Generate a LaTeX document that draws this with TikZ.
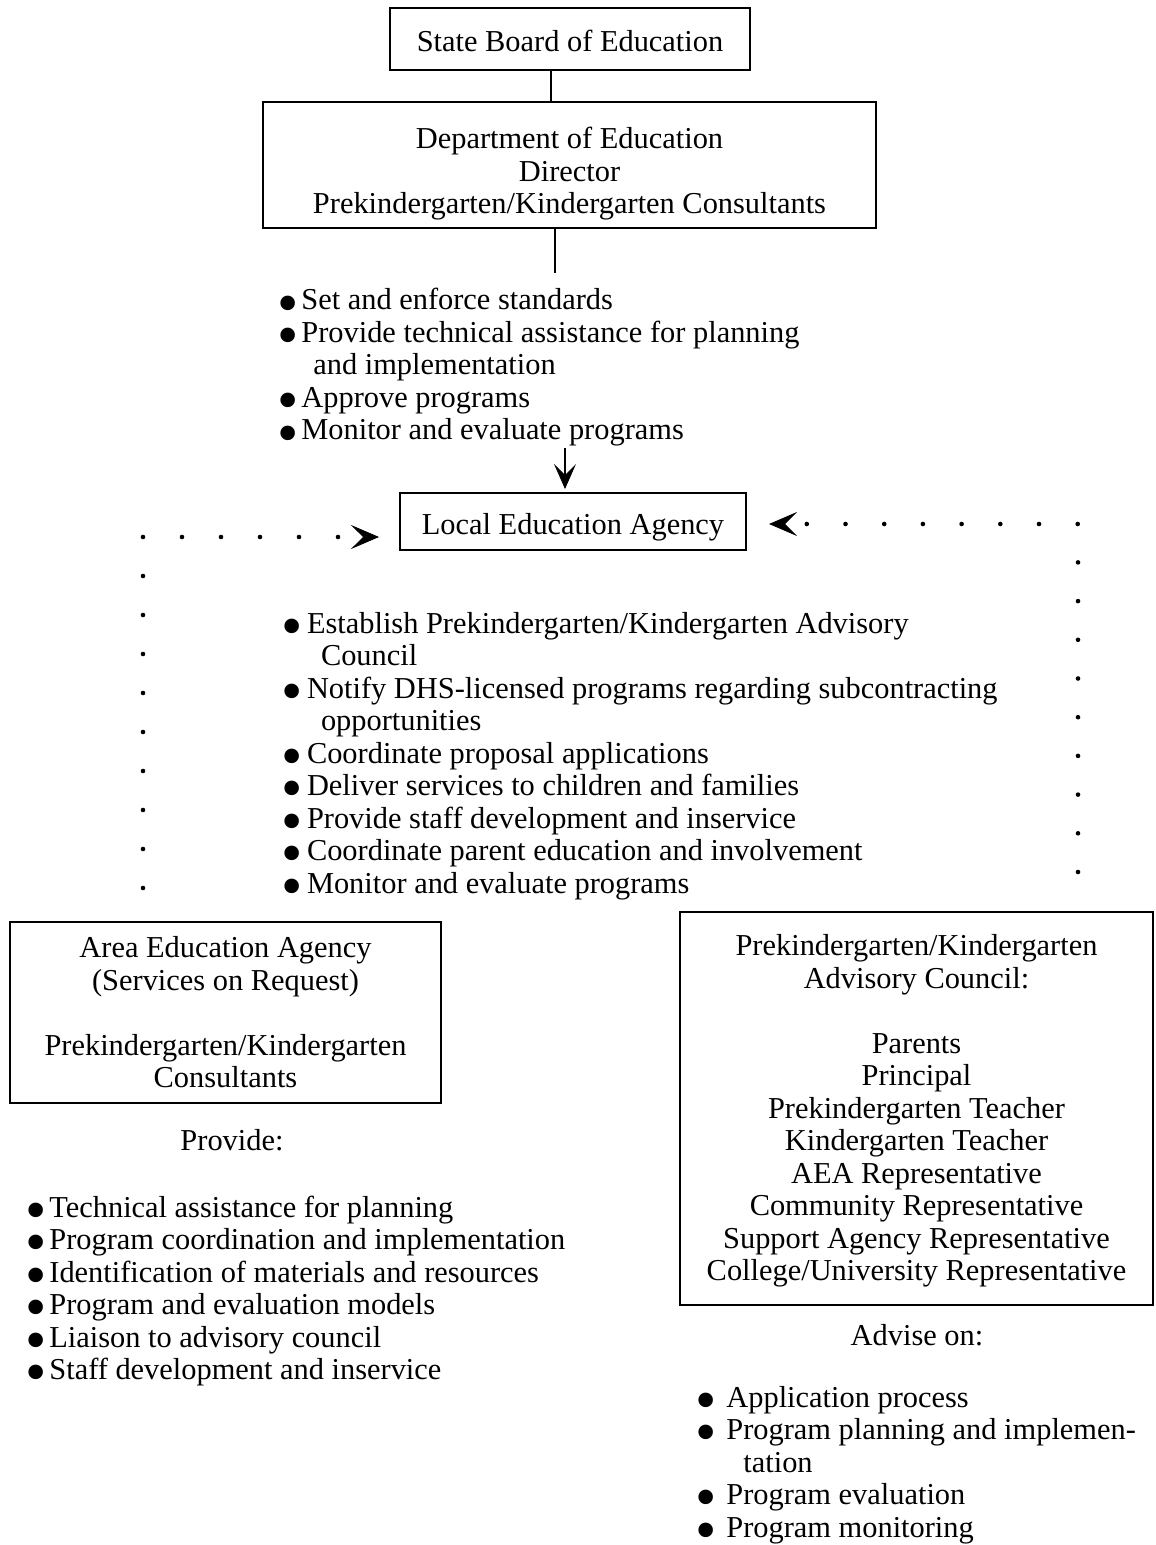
\documentclass[tikz,border=0pt]{standalone}
\usepackage{fontspec}
\setmainfont{Liberation Serif}
\usepackage{graphicx}
\usetikzlibrary{arrows.meta,calc}
\newlength{\bulw}
\setlength{\bulw}{10.8pt}
\newcommand{\bul}{\makebox[\bulw][l]{\raisebox{-0.44em}[0pt][0pt]{\scalebox{2.0}{\textbullet}}}}
\newcommand{\blist}[2]{\setlength{\bulw}{#1}\begin{tabular}[t]{@{}l@{}l@{}}#2\end{tabular}}
\newcommand{\upstrut}[1]{\rule{0pt}{#1}}
\begin{document}
\begin{tikzpicture}[x=0.5pt,y=-0.5pt,
  every node/.style={font=\fontsize{15.2}{16.25}\selectfont},
  box/.style={draw,line width=1pt,align=center,inner sep=0pt},
  blistnode/.style={anchor=base west,inner sep=0pt,align=left},
  lbl/.style={inner sep=0pt},
  conn/.style={line width=1pt},
  dotconn/.style={line width=2.3pt,line cap=round,dash pattern=on 0pt off 19.5pt,
    -{Stealth[length=14pt,width=12pt,inset=6pt,line width=0.4pt]}},
  downarrow/.style={line width=1pt,-{Stealth[length=12.5pt,width=11pt,inset=5.5pt,line width=0.4pt]}}
]
\useasboundingbox (0,0) rectangle (1155,1545);

% boxes
\node[box,minimum width=180pt,minimum height=31pt] (sb) at (570,39)
  {\upstrut{13pt}State Board of Education};
\node[box,minimum width=306.5pt,minimum height=63pt] (dept) at (569.5,165)
  {\upstrut{19.5pt}Department of Education\\Director\\Prekindergarten/Kindergarten Consultants};
\node[box,minimum width=173pt,minimum height=28.5pt] (lea) at (573,521.5)
  {\upstrut{16.5pt}Local Education Agency};
\node[box,minimum width=215.5pt,minimum height=90.5pt] (aea) at (225.5,1012.5)
  {Area Education Agency\\(Services on Request)\\[16.25pt]Prekindergarten/Kindergarten\\Consultants};
\node[box,minimum width=236.5pt,minimum height=196.5pt] (adv) at (916.5,1108.5)
  {\upstrut{13pt}Prekindergarten/Kindergarten\\Advisory Council:\\[16.25pt]Parents\\Principal\\Prekindergarten Teacher\\Kindergarten Teacher\\AEA Representative\\Community Representative\\Support Agency Representative\\College/University Representative};

% bullet lists
\node[blistnode] (l1) at (277,310) {\blist{12pt}{%
\bul & Set and enforce standards\\
\bul & Provide technical assistance for planning\\
 & \hspace{6pt}and implementation\\
\bul & Approve programs\\
\bul & Monitor and evaluate programs}};

\node[blistnode] (l2) at (281,633) {\blist{12.8pt}{%
\bul & Establish Prekindergarten/Kindergarten Advisory\\
 & \hspace{7pt}Council\\
\bul & Notify DHS-licensed programs regarding subcontracting\\
 & \hspace{7pt}opportunities\\
\bul & Coordinate proposal applications\\
\bul & Deliver services to children and families\\
\bul & Provide staff development and inservice\\
\bul & Coordinate parent education and involvement\\
\bul & Monitor and evaluate programs}};

\node[lbl] (prov) at (232,1140) {Provide:};
\node[blistnode] (l3) at (25,1217) {\blist{12pt}{%
\bul & Technical assistance for planning\\
\bul & Program coordination and implementation\\
\bul & Identification of materials and resources\\
\bul & Program and evaluation models\\
\bul & Liaison to advisory council\\
\bul & Staff development and inservice}};

\node[lbl] (advon) at (917,1335) {Advise on:};
\node[blistnode] (l4) at (695,1407) {\blist{15.5pt}{%
\bul & Application process\\
\bul & Program planning and implemen-\\
 & \hspace{8.5pt}tation\\
\bul & Program evaluation\\
\bul & Program monitoring}};

% connectors
\draw[conn] ([xshift=-9.5pt]sb.south) -- ([xshift=-9.5pt]sb.south |- dept.north);
\coordinate (c1) at (555,273);
\draw[conn] (dept.south -| c1) -- (c1);
\coordinate (c2) at (565,448);
\draw[downarrow,shorten >=1.5pt] (c2) -- (c2 |- lea.north);

\coordinate (lf) at (143,888);
\coordinate (lt) at ([yshift=-7.75pt]lea.west);
\draw[dotconn,shorten >=10pt] (lf) -- (lf |- lt) -- (lt);

\coordinate (rf) at (1078,872);
\coordinate (rt) at ([yshift=-1.25pt]lea.east);
\draw[dotconn,dash pattern=on 0pt off 19.35pt,shorten >=11pt] (rf) -- (rf |- rt) -- (rt);
\end{tikzpicture}
\end{document}
